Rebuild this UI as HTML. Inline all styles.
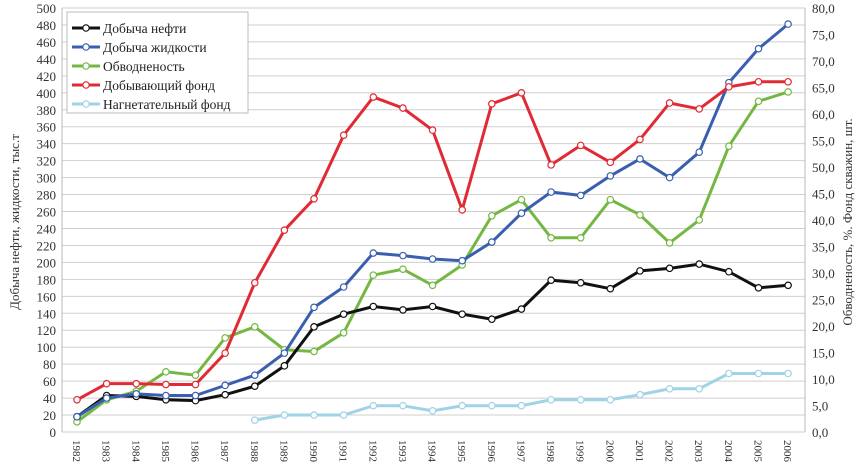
<!DOCTYPE html>
<html><head><meta charset="utf-8"><style>body{margin:0;background:#fff}svg{display:block}</style></head>
<body>
<svg id="s" width="867" height="472" xmlns="http://www.w3.org/2000/svg" font-family="Liberation Serif, serif"></svg>
<script>
const s=document.getElementById('s');
let h='';
const X=i=>77+i*29.63, Y=v=>432-v*0.848;
// grid
for(let v=0;v<=500;v+=20){const y=Y(v);h+=`<line x1="62" x2="805" y1="${y}" y2="${y}" stroke="#cfcfcf" stroke-width="1"/>`;
h+=`<text x="56" y="${y+5}" font-size="13" text-anchor="end" fill="#333">${v}</text>`;}
for(let r=0;r<=80;r+=5){const y=Y(r*6.25);h+=`<text x="812" y="${y+5}" font-size="13" fill="#333">${r.toFixed(1).replace('.',',')}</text>`;}
h+=`<line x1="62" x2="62" y1="8" y2="432" stroke="#bbb"/><line x1="805" x2="805" y1="8" y2="432" stroke="#bbb"/>`;
for(let i=0;i<25;i++){h+=`<text transform="translate(${X(i)-4},440) rotate(90)" font-size="11" fill="#333">${1982+i}</text>`;}
h+=`<text transform="translate(19,222) rotate(-90)" font-size="13" text-anchor="middle" fill="#333">Добыча нефти, жидкости, тыс.т</text>`;
h+=`<text transform="translate(852,222) rotate(-90)" font-size="13" text-anchor="middle" fill="#333">Обводненость, %. Фонд скважин, шт.</text>`;
const S=[
['#9fd3e6',[null,null,null,null,null,null,14,20,20,20,31,31,25,31,31,31,38,38,38,44,51,51,69,69,69]],
['#74b843',[12,38,48,71,67,111,124,97,95,117,185,192,173,197,255,274,229,229,274,256,223,250,337,390,401]],
['#111',[18,43,42,38,37,44,54,78,124,139,148,144,148,139,133,145,179,176,169,190,193,198,189,170,173]],
['#3b5fb0',[18,40,45,43,43,55,67,93,147,171,211,208,204,202,224,258,283,279,302,322,300,330,412,452,481]],
['#e02b36',[38,57,57,56,56,93,176,238,275,350,395,382,356,262,387,400,315,338,318,345,388,381,407,413,413]]];
for(const [c,d] of S){let p=[];d.forEach((v,i)=>{if(v!=null)p.push(X(i)+','+Y(v))});
h+=`<polyline points="${p.join(' ')}" fill="none" stroke="${c}" stroke-width="3"/>`;
d.forEach((v,i)=>{if(v!=null)h+=`<circle cx="${X(i)}" cy="${Y(v)}" r="3.2" fill="#fff" stroke="${c}" stroke-width="1.2"/>`});}
// legend
h+=`<rect x="67" y="12" width="181" height="101" fill="#fff" stroke="#bbb"/>`;
const L=[['#111','Добыча нефти'],['#3b5fb0','Добыча жидкости'],['#74b843','Обводненость'],['#e02b36','Добывающий фонд'],['#9fd3e6','Нагнетательный фонд']];
L.forEach(([c,t],i)=>{const y=28+i*19;h+=`<line x1="72" x2="100" y1="${y}" y2="${y}" stroke="${c}" stroke-width="3"/><circle cx="86" cy="${y}" r="3.2" fill="#fff" stroke="${c}" stroke-width="1.2"/><text x="103" y="${y+5}" font-size="13.5" fill="#222">${t}</text>`;});
s.innerHTML=h;
</script>
</body></html>
